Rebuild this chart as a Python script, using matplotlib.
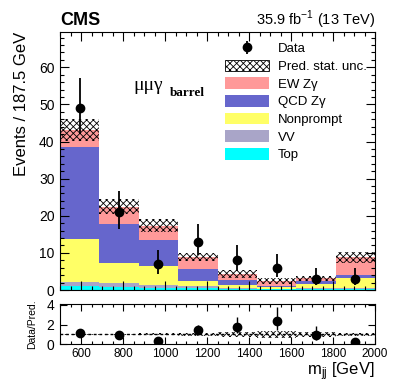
import numpy as np
import matplotlib
matplotlib.use("Agg")
import matplotlib.pyplot as plt
from matplotlib.patches import Patch
from matplotlib.ticker import MultipleLocator

plt.rcParams['font.family'] = ['Liberation Sans', 'DejaVu Sans']
plt.rcParams['hatch.linewidth'] = 0.6

# ---- data ----
bin_edges = [500, 687.5, 875, 1062.5, 1250, 1437.5, 1625, 1812.5, 2000]
top_bkg   = [1.2, 0.9, 0.5, 0.5, 0.3, 0.2, 0.3, 0.4]
vv_bkg    = [1.0, 0.9, 0.8, 0.5, 0.3, 0.2, 0.2, 0.1]
nonprompt = [11.5, 5.4, 5.2, 1.4, 0.7, 0.4, 1.0, 2.7]
qcd_zg    = [24.8, 10.6, 7.0, 3.2, 1.4, 0.4, 0.9, 0.8]
ew_zg     = [4.6, 4.6, 3.8, 3.3, 1.6, 1.3, 0.7, 4.8]
pred_unc  = [3.0, 2.0, 1.8, 1.2, 1.0, 0.8, 0.8, 1.4]
data_obs  = [49, 21, 7, 13, 8, 6, 3, 3]
data_err_lo = [7.0, 4.6, 2.6, 3.6, 2.8, 2.4, 1.6, 1.6]
data_err_hi = [8.0, 5.6, 3.8, 4.7, 4.0, 3.6, 2.9, 2.9]
ratio_vals  = [1.17, 0.93, 0.36, 1.47, 1.81, 2.37, 0.93, 0.26]

labels = ['Top', 'VV', 'Nonprompt', 'QCD Z\u03b3', 'EW Z\u03b3']
colors = ['#00ffff', '#a9a5c8', '#ffff66', '#6666cc', '#ff9999']
components = [top_bkg, vv_bkg, nonprompt, qcd_zg, ew_zg]

edges = np.array(bin_edges)
centers = 0.5 * (edges[:-1] + edges[1:])
widths = np.diff(edges)

W, H = 399, 383
fig = plt.figure(figsize=(W / 100, H / 100), dpi=100)

def fx(px):
    return px / W

def fy(py):
    return 1 - py / H

ax = fig.add_axes([fx(60), fy(290), fx(375) - fx(60), fy(32) - fy(290)])
rax = fig.add_axes([fx(60), fy(344.3), fx(375) - fx(60), fy(304) - fy(344.3)])

bottom = np.zeros(len(centers))
for vals, c in zip(components, colors):
    v = np.array(vals)
    ax.bar(centers, v, width=widths, bottom=bottom, color=c, linewidth=0, align='center')
    bottom = bottom + v
total = bottom
unc = np.array(pred_unc)
ax.bar(centers, 2 * unc, width=widths, bottom=total - unc, fill=False, hatch='xxxxx',
       edgecolor='black', linewidth=0, align='center')

d = np.array(data_obs, dtype=float)
ax.errorbar(centers, d, yerr=[data_err_lo, data_err_hi], fmt='o', color='black',
             markersize=6, elinewidth=1.3, capsize=0, zorder=5)

ax.set_xlim(500, 2000)
ax.set_ylim(0, 69.5)
ax.yaxis.set_major_locator(MultipleLocator(10))
ax.yaxis.set_minor_locator(MultipleLocator(2))
ax.xaxis.set_major_locator(MultipleLocator(200))
ax.xaxis.set_minor_locator(MultipleLocator(50))
ax.tick_params(axis='both', which='both', direction='in', top=True, right=True)
ax.tick_params(which='major', length=6.5, width=0.8)
ax.tick_params(which='minor', length=3.2, width=0.8)
ax.tick_params(axis='x', labelbottom=False)
ax.tick_params(axis='y', labelsize=10, pad=4)

# ratio
rel = unc / total
rax.bar(centers, 2 * rel, width=widths, bottom=1 - rel, fill=False, hatch='xxxxx',
        edgecolor='black', linewidth=0, align='center')
rax.axhline(1, color='black', linestyle=(0, (2, 2)), linewidth=1.0)
r = np.array(ratio_vals)
rax.errorbar(centers, r, yerr=[np.array(data_err_lo) / total, np.array(data_err_hi) / total],
             fmt='o', color='black', markersize=6, elinewidth=1.0, capsize=0, zorder=5)
rax.set_xlim(500, 2000)
rax.set_ylim(0, 4.1)
rax.yaxis.set_major_locator(MultipleLocator(2))
rax.xaxis.set_major_locator(MultipleLocator(200))
rax.xaxis.set_minor_locator(MultipleLocator(50))
rax.tick_params(axis='both', which='both', direction='in', top=True, right=True)
rax.tick_params(which='major', length=5, width=0.8)
rax.tick_params(which='minor', length=2.5, width=0.8)
rax.tick_params(axis='x', labelsize=8.5, pad=3)
rax.tick_params(axis='y', labelsize=10, pad=4)

# texts
fig.text(fx(60), fy(25), 'CMS', fontsize=13, fontweight='bold', ha='left', va='baseline')
fig.text(fx(375), fy(25), r'35.9 fb$^{\mathregular{-1}}$ (13 TeV)', fontsize=10.5,
         ha='right', va='baseline')
fig.text(fx(22), fy(32), 'Events / 187.5 GeV', rotation=90, fontsize=12, ha='center', va='top')
fig.text(fx(32), fy(324), 'Data/Pred.', rotation=90, fontsize=7.5, ha='center', va='center')
fig.text(fx(375), fy(375), r'$\mathregular{m_{jj}}$ [GeV]', fontsize=12, ha='right', va='baseline')
fig.text(fx(133), fy(90), '\u03bc\u03bc\u03b3', fontsize=14, family='Liberation Serif',
         ha='left', va='baseline')
fig.text(fx(170), fy(96), 'barrel', fontsize=9.5, family='Liberation Serif', fontweight='bold',
         ha='left', va='baseline')

# legend
data_handle = ax.errorbar([], [], yerr=[], fmt='o', color='black', markersize=6,
                          elinewidth=1.3, capsize=0)
handles = [data_handle,
           Patch(facecolor='white', hatch='xxxxx', edgecolor='black', linewidth=0.6)]
leg_labels = ['Data', 'Pred. stat. unc.']
for lab, c in zip(labels[::-1], colors[::-1]):
    handles.append(Patch(facecolor=c, edgecolor='none'))
    leg_labels.append(lab)
fig.legend(handles, leg_labels, loc='upper left', bbox_to_anchor=(fx(225), fy(42)),
           frameon=False, fontsize=9.5, handlelength=3.3, handleheight=1.0,
           labelspacing=0.32, handletextpad=0.7, borderpad=0, borderaxespad=0)

fig.savefig('out.png', dpi=100)
